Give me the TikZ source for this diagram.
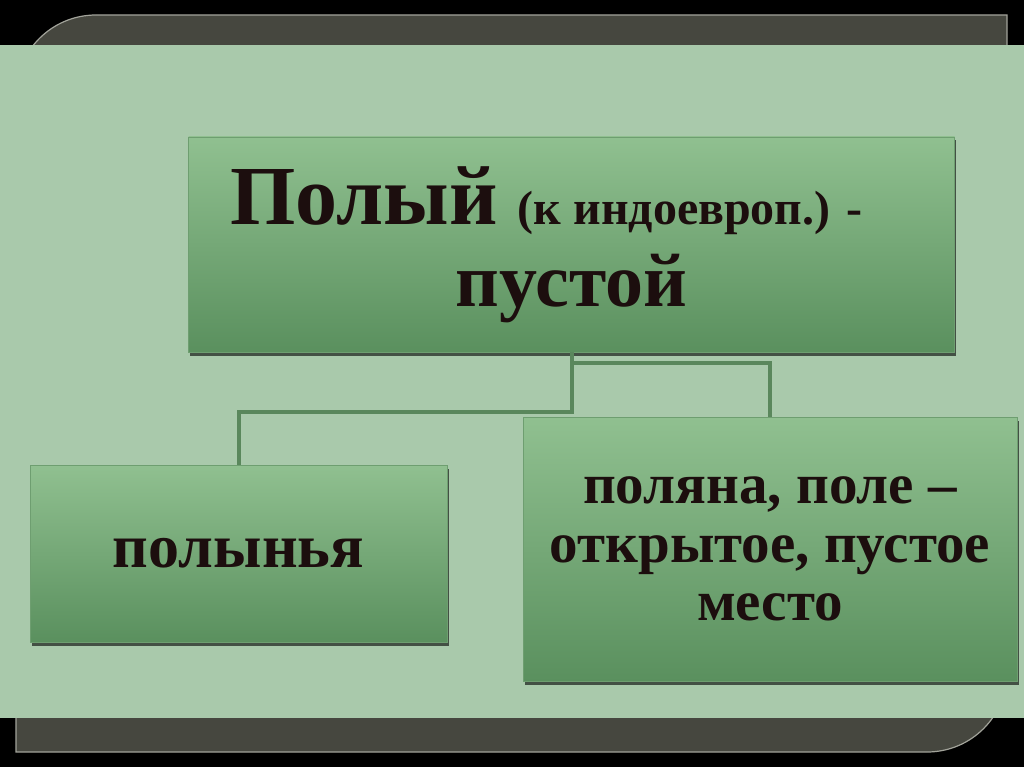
\documentclass[tikz,border=0pt]{standalone}
\usepackage{fontspec}
\setmainfont{Liberation Serif}
\usetikzlibrary{shadows}
\definecolor{framegray}{HTML}{46473F}
\definecolor{frameedge}{HTML}{A2A39A}
\definecolor{panelgreen}{HTML}{A9C9AB}
\definecolor{boxtop}{HTML}{90C090}
\definecolor{boxbot}{HTML}{5A905E}
\definecolor{boxedge}{HTML}{6E9E70}
\definecolor{connc}{HTML}{5A875C}
\definecolor{txt}{HTML}{1C0E0E}
\begin{document}
\begin{tikzpicture}[x=1pt,y=-1pt,
  greenbox/.style={draw=boxedge, line width=0.8pt, top color=boxtop, bottom color=boxbot,
    text=txt, align=center, inner sep=0pt,
    drop shadow={shadow xshift=1.5pt, shadow yshift=-3.5pt, opacity=0.6, fill=black}},
  conn/.style={draw=connc, line width=4pt}]
\fill[black] (0,0) rectangle (1024,767);
\useasboundingbox (0,0) rectangle (1024,767);
% frame
\path[fill=framegray, draw=frameedge, line width=1.2pt]
  (16,752) -- (16,95) .. controls (16,50.8) and (51.8,15) .. (96,15) -- (1007,15)
  -- (1007,672) .. controls (1007,716.2) and (971.2,752) .. (927,752) -- cycle;
% panel
\fill[panelgreen] (0,45) rectangle (1024,718);
% boxes
\node[greenbox, minimum width=766pt, minimum height=215pt,
      font=\bfseries\fontsize{80}{82}\selectfont] (top) at (571.5,244.5)
  {{\fontsize{84}{82}\selectfont Полый} {\fontsize{48}{82}\selectfont (к индоевроп.) -}\hspace*{50pt}\\
   {\fontsize{76}{82}\selectfont пустой}};
\node[greenbox, minimum width=417pt, minimum height=177pt,
      font=\bfseries\fontsize{62}{62}\selectfont] (left) at (238.5,553.5)
  {полынья};
\node[greenbox, minimum width=494pt, minimum height=264pt,
      font=\bfseries\fontsize{57}{58.5}\selectfont] (right) at (770,549)
  {поляна, поле –\\открытое, пустое\\место};
% connectors
\draw[conn] (top.south) -- ++(0,60) -| (left.north);
\draw[conn] (top.south) -- ++(0,11) -| (right.north);
\end{tikzpicture}
\end{document}
